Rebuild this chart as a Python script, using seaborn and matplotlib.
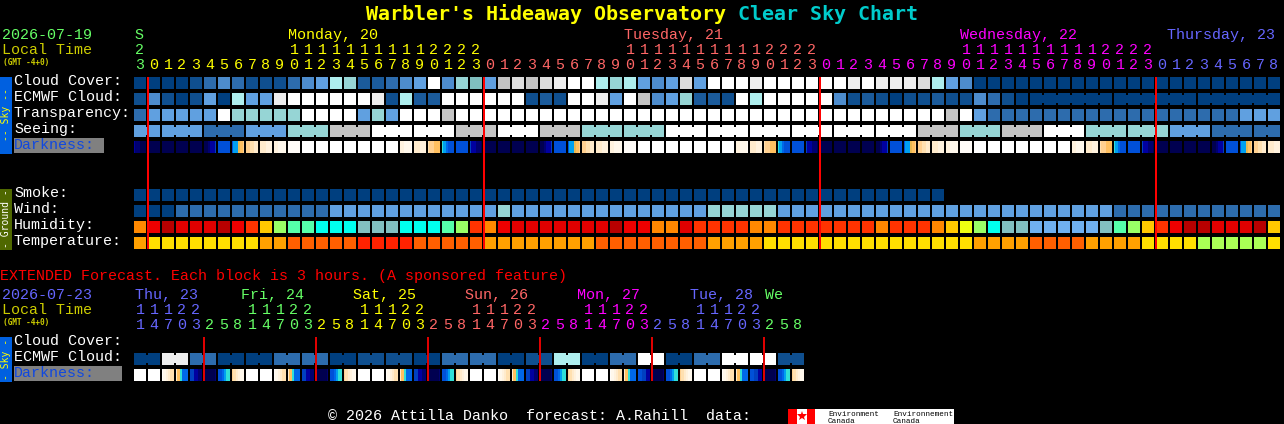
import numpy as np
import matplotlib
matplotlib.use("Agg")
import matplotlib.pyplot as plt
from matplotlib.colors import ListedColormap
from matplotlib.patches import Rectangle
import seaborn as sns

W, H = 1284, 424
MONO = "Liberation Mono"

# ---------------- colour levels -----------------
sky_levels = ["#003F7F", "#0F4F8F", "#1B5B9B", "#2D6CAD", "#4D8CCD", "#60A0E0", "#80BFBF",
              "#96D5D5", "#AEEEEE", "#C4C4C4", "#DDDDDD", "#EEEEEE", "#FFFFFF"]
ground_levels = ["#B80000", "#E00000", "#EE0000", "#FF3300", "#FF8800", "#FFC800", "#EEFF11",
                 "#99FF66", "#55FFAA", "#00FFEE", "#82C0C0", "#70B0F0",
                 "#FFDF00", "#FFA000", "#FF5F00", "#FF2200", "#AAFF55"]
dark_levels = ["#000050", "#000070", "#0000A0", "#0040C0", "#0050D8", "#0068E8", "#00A0F0",
               "#30E0D8", "#E8B850", "#FFC060", "#FFD090", "#FFE0B0", "#FFEBCC", "#FFF2DE",
               "#FFF8EC", "#FFFCF8", "#FFFFFF"]

# ---------------- main forecast -----------------
cloud_cover = [0, 0, 0, 0, 1, 3, 4, 3, 1, 1, 1, 3, 4, 5, 8, 7, 2, 2, 3, 4, 5, 12,
               4, 7, 6, 5, 9, 10, 9, 10, 11, 12, 12, 8, 7, 8, 5, 4, 5, 10, 5,
               12, 12, 12, 11, 12, 12, 12, 12, 12, 12, 11, 12, 11, 11, 11, 10, 8, 5, 4] + [0] * 22
ecmwf_cloud = [1, 4, 1, 0, 1, 5, 0, 8, 5, 5, 11, 12, 12, 12, 12, 12, 12, 11, 1, 8, 2, 2,
               12, 12, 12, 12, 12, 12, 1, 2, 1, 12, 12, 11, 5, 12, 9, 4, 5, 7, 2, 2, 1, 12, 8,
               12, 12, 12, 12, 12, 4, 1, 2, 1, 0, 1, 1, 2, 1, 1, 4, 3, 1, 0] + [0] * 18
ecmwf_groups = [1] * 64 + [6, 6, 6]
transparency = [3, 5, 5, 5, 5, 5, 12, 7, 7, 7, 7, 7, 12, 12, 12, 12, 5, 7, 5, 12, 12, 12, 9] \
    + [12] * 35 + [9, 12, 5] + [3] * 18 + [5, 5, 5]
seeing_group_values = [5, 5, 3, 5, 7, 9, 12, 12, 9, 12, 9, 7, 7, 12, 12, 12, 12, 12, 12,
                       9, 7, 9, 12, 7, 7, 5, 3, 3]
seeing_groups = [2] + [3] * 26 + [2]
smoke = [0] * 58 + [np.nan] * 24
wind = [0, 0, 0] + [3] * 11 + [5] * 12 + [7] + [5] * 14 + [7] * 5 + [5] * 24 + [3] * 12
humidity = [4, 2, 0, 1, 1, 1, 0, 2, 3, 5, 7, 8, 8, 9, 9, 9, 10, 10, 10, 9, 9, 9, 8, 7, 3, 4, 2,
            1, 1, 1, 1, 1, 1, 1, 0, 2, 2, 4, 4, 1, 3, 3, 3, 3, 4, 4, 3, 3, 3, 3, 3, 3, 3, 4,
            3, 3, 3, 4, 5, 6, 7, 9, 10, 10, 11, 11, 11, 11, 11, 10, 8, 7, 5, 3, 2, 0, 0, 1, 1, 1, 0, 5]
temperature = [13] + [12] * 8 + [13] * 2 + [14] * 5 + [15] * 4 + [14] * 5 + [13] * 8 + [14] * 8 \
    + [13] * 4 + [12] * 15 + [13] * 4 + [14] * 4 + [13] * 4 + [12] * 4 + [16] * 5 + [12]

# darkness: each block is six samples left to right
dark_blocks = {
    "N": [0, 0, 0, 0, 0, 0], "Z": [2, 1, 1, 0, 0, 0], "D": [0, 0, 1, 2, 2, 3],
    "B": [4, 4, 4, 4, 4, 4], "T": [4, 6, 6, 8, 9, 10], "a": [10, 10, 11, 11, 12, 12],
    "b": [12, 12, 12, 13, 13, 13], "c": [13, 13, 14, 14, 14, 14], "d": [15, 15, 15, 15, 15, 15],
    "W": [16, 16, 16, 16, 16, 16], "e": [13, 13, 14, 14, 14, 15], "f": [12, 12, 12, 13, 13, 13],
    "O": [11, 10, 10, 9, 9, 9], "C": [7, 6, 5, 4, 4, 4], "Y": [3, 2, 2, 1, 1, 0],
    "P": [15, 14, 13, 12, 11, 11], "M": [12, 9, 7, 5, 5, 5], "G": [3, 3, 2, 2, 1, 1],
    "H": [1, 0, 0, 0, 0, 1], "J": [4, 4, 5, 6, 7, 7], "K": [10, 11, 12, 13, 14, 14],
    "Q": [4, 4, 3, 3, 2, 2],
}
darkness_main = "ZNNNNDBTabcdWWWWWWWefOCBYNNNNDBTabcdWWWWWWWefOCBYNNNNDBTabcdWWWWWWWefOCBYNNNNDBTab"

# ---------------- extended forecast -----------------
ext_ecmwf_pairs = [0, 11, 3, 0, 0, 3, 3, 0, 1, 1, 0, 3, 3, 0, 1, 8, 0, 3, 12, 0, 3, 12, 12, 1]
ext_groups = [2] * 24
darkness_ext = "WWPMGHJKWWPMGHJKWWPMGHJKWWPMGHJKWWPMQHJKWWPMQHJK"[:48]

# ---------------- labels -----------------
hours_main = [23] + list(range(24)) + list(range(24)) + list(range(24)) + list(range(9))
hours_main_colors = ["#66FF66"] + ["#FFFF00"] * 24 + ["#FF6666"] * 24 + ["#FF00FF"] * 24 + ["#6666FF"] * 9
days_main = [("S", 134, "#66FF66"), ("Monday, 20", 288, "#FFFF00"), ("Tuesday, 21", 624, "#FF6666"),
             ("Wednesday, 22", 960, "#FF00FF"), ("Thursday, 23", 1167, "#6666FF")]
hours_ext = [11, 14, 17, 20, 23] + [2, 5, 8, 11, 14, 17, 20, 23] * 5 + [2, 5, 8]
hours_ext_colors = ["#6666FF"] * 5 + ["#66FF66"] * 8 + ["#FFFF00"] * 8 + ["#FF6666"] * 8 \
    + ["#FF00FF"] * 8 + ["#6666FF"] * 8 + ["#66FF66"] * 3
days_ext = [("Thu, 23", 135, "#6666FF"), ("Fri, 24", 241, "#66FF66"), ("Sat, 25", 353, "#FFFF00"),
            ("Sun, 26", 465, "#FF6666"), ("Mon, 27", 577, "#FF00FF"), ("Tue, 28", 690, "#6666FF"),
            ("We", 765, "#66FF66")]
midnights_main = [1, 25, 49, 73]
midnights_ext = [5, 13, 21, 29, 37, 45]
labels_sky = [("Cloud Cover:", 85), ("ECMWF Cloud:", 101), ("Transparency:", 117), ("Seeing:", 133)]
labels_ground = [("Smoke:", 197), ("Wind:", 213), ("Humidity:", 229), ("Temperature:", 245)]

# ---------------- layout helpers -----------------
LEFT, STEP, BLOCK = 134, 14, 12
GAP_LW = 2 * 72 / 100
sns.set_theme(style="white")
plt.rcParams["font.family"] = [MONO, "DejaVu Sans Mono", "DejaVu Sans"]
fig = plt.figure(figsize=(W / 100, H / 100), dpi=100, facecolor="black")


def px_axes(x, y, w, h, z=1):
    ax = fig.add_axes([x / W, 1 - (y + h) / H, w / W, h / H], zorder=z)
    ax.set_facecolor("black")
    return ax


def row(values, top, levels, groups=None):
    n = len(values)
    ax = px_axes(LEFT - 1, top, STEP * n, BLOCK)
    data = np.array([values], dtype=float)
    sns.heatmap(data, ax=ax, cmap=ListedColormap(levels), vmin=-0.5, vmax=len(levels) - 0.5,
                cbar=False, xticklabels=False, yticklabels=False)
    ax.set_xlim(0, n)
    ax.set_ylim(1, 0)
    ax.vlines(np.arange(n + 1), 0, 1, color="black", lw=GAP_LW, zorder=3)
    if groups:
        start = 0
        for size in groups:
            for j in range(start, start + size - 1):
                ax.add_patch(Rectangle((j + 1 - 1.5 / STEP, 2 / BLOCK), 3 / STEP, 8 / BLOCK,
                                       facecolor=levels[int(values[j])], edgecolor="none", zorder=5))
            start += size
    return ax


def dark_row(tokens, top):
    samples = np.array([dark_blocks[t] for t in tokens], dtype=float).reshape(1, -1)
    n = len(tokens)
    ax = px_axes(LEFT - 1, top, STEP * n, BLOCK)
    sns.heatmap(samples, ax=ax, cmap=ListedColormap(dark_levels), vmin=-0.5,
                vmax=len(dark_levels) - 0.5, cbar=False, xticklabels=False, yticklabels=False)
    ax.set_xlim(0, samples.shape[1])
    ax.vlines(np.arange(n + 1) * 6, 0, 1, color="black", lw=GAP_LW, zorder=3)
    return ax


def expand(values, sizes):
    out = []
    for v, s in zip(values, sizes):
        out += [v] * s
    return out


# ---------------- blocks -----------------
row(cloud_cover, 77, sky_levels)
row(ecmwf_cloud, 93, sky_levels, ecmwf_groups)
row(transparency, 109, sky_levels)
row(expand(seeing_group_values, seeing_groups), 125, sky_levels, seeing_groups)
dark_row(darkness_main, 141)
row(smoke, 189, sky_levels)
row(wind, 205, sky_levels)
row(humidity, 221, ground_levels)
row(temperature, 237, ground_levels)
row(expand(ext_ecmwf_pairs, ext_groups), 353, sky_levels, ext_groups)
dark_row(darkness_ext, 369)

# ---------------- overlay -----------------
ov = px_axes(0, 0, W, H, z=10)
ov.patch.set_alpha(0)
ov.set_xlim(0, W)
ov.set_ylim(H, 0)
ov.axis("off")


def T(x, y, s, color="white", size=10.8, family=MONO, **kw):
    kw.setdefault("va", "baseline")
    kw.setdefault("ha", "left")
    ov.text(x, y, s, color=color, fontsize=size, family=family, **kw)


T(366, 20, "Warbler's Hideaway Observatory", "#FFFF00", 14.4, "DejaVu Sans Mono", fontweight="bold")
T(738, 20, "Clear Sky Chart", "#00CCCC", 14.4, "DejaVu Sans Mono", fontweight="bold")

# header, main
T(2, 39, "2026-07-19", "#66FF66")
T(2, 54, "Local Time", "#CCCC00")
T(3, 65, "(GMT -4+0)", "#CCCC00", 5.6, "DejaVu Sans Mono", fontweight="bold")
for name, x, c in days_main:
    T(x, 39, name, c)
for i, (h, c) in enumerate(zip(hours_main, hours_main_colors)):
    xc = LEFT + STEP * i + BLOCK / 2
    if h >= 10:
        T(xc, 54, str(h // 10), c, ha="center")
    T(xc, 69, str(h % 10), c, ha="center")

for s, y in labels_sky + labels_ground:
    T(14, y, s)

# Darkness label boxes
ov.add_patch(Rectangle((14, 138), 90, 15, facecolor="#808080", edgecolor="none"))
T(14, 149, "Darkness:", "#1048E0")

# side strips
ov.add_patch(Rectangle((0, 77), 12, 77, facecolor="#0060E0", edgecolor="none"))
T(6, 115, "-- Sky --", "#FFFF00", 7, "DejaVu Sans Mono", rotation=90, ha="center", va="center")
ov.add_patch(Rectangle((0, 189), 12, 61, facecolor="#4F6800", edgecolor="none"))
T(6, 219, "- Ground -", "white", 7, "DejaVu Sans Mono", rotation=90, ha="center", va="center")
ov.add_patch(Rectangle((0, 337), 12, 45, facecolor="#0060E0", edgecolor="none"))
T(6, 359, "- Sky -", "#FFFF00", 7, "DejaVu Sans Mono", rotation=90, ha="center", va="center")

# extended header
T(0, 280, "EXTENDED Forecast. Each block is 3 hours. (A sponsored feature)", "#FF0000")
T(2, 299, "2026-07-23", "#6666FF")
T(2, 314, "Local Time", "#CCCC00")
T(3, 325, "(GMT -4+0)", "#CCCC00", 5.6, "DejaVu Sans Mono", fontweight="bold")
for name, x, c in days_ext:
    T(x, 299, name, c)
for i, (h, c) in enumerate(zip(hours_ext, hours_ext_colors)):
    xc = LEFT + STEP * i + BLOCK / 2
    if h >= 10:
        T(xc, 314, str(h // 10), c, ha="center")
    T(xc, 329, str(h % 10), c, ha="center")
T(14, 345, "Cloud Cover:")
T(14, 361, "ECMWF Cloud:")
ov.add_patch(Rectangle((14, 366), 108, 15, facecolor="#808080", edgecolor="none"))
T(14, 377, "Darkness:", "#1048E0")

# midnight lines
for m in midnights_main:
    ov.add_patch(Rectangle((LEFT + STEP * m - 1, 77), 2, 172, facecolor="#FF0000", edgecolor="none"))
for m in midnights_ext:
    ov.add_patch(Rectangle((LEFT + STEP * m - 1, 337), 2, 44, facecolor="#E00000", edgecolor="none"))

# footer
T(328, 420, "\u00a9 2026 Attilla Danko  forecast: A.Rahill  data:")
ov.add_patch(Rectangle((788, 409), 27, 15, facecolor="#FF0000", edgecolor="none"))
ov.add_patch(Rectangle((797, 409), 10, 15, facecolor="white", edgecolor="none"))
ov.plot([801.5], [416], marker="*", ms=7, color="#FF0000", mew=0)
ov.add_patch(Rectangle((815, 409), 139, 15, facecolor="white", edgecolor="none"))
T(828, 416, "Environment", "black", 5.5)
T(828, 423, "Canada", "black", 5.5)
T(893, 416, "Environnement", "black", 5.5)
T(893, 423, "Canada", "black", 5.5)

fig.savefig("out.png", dpi=100, facecolor="black")
